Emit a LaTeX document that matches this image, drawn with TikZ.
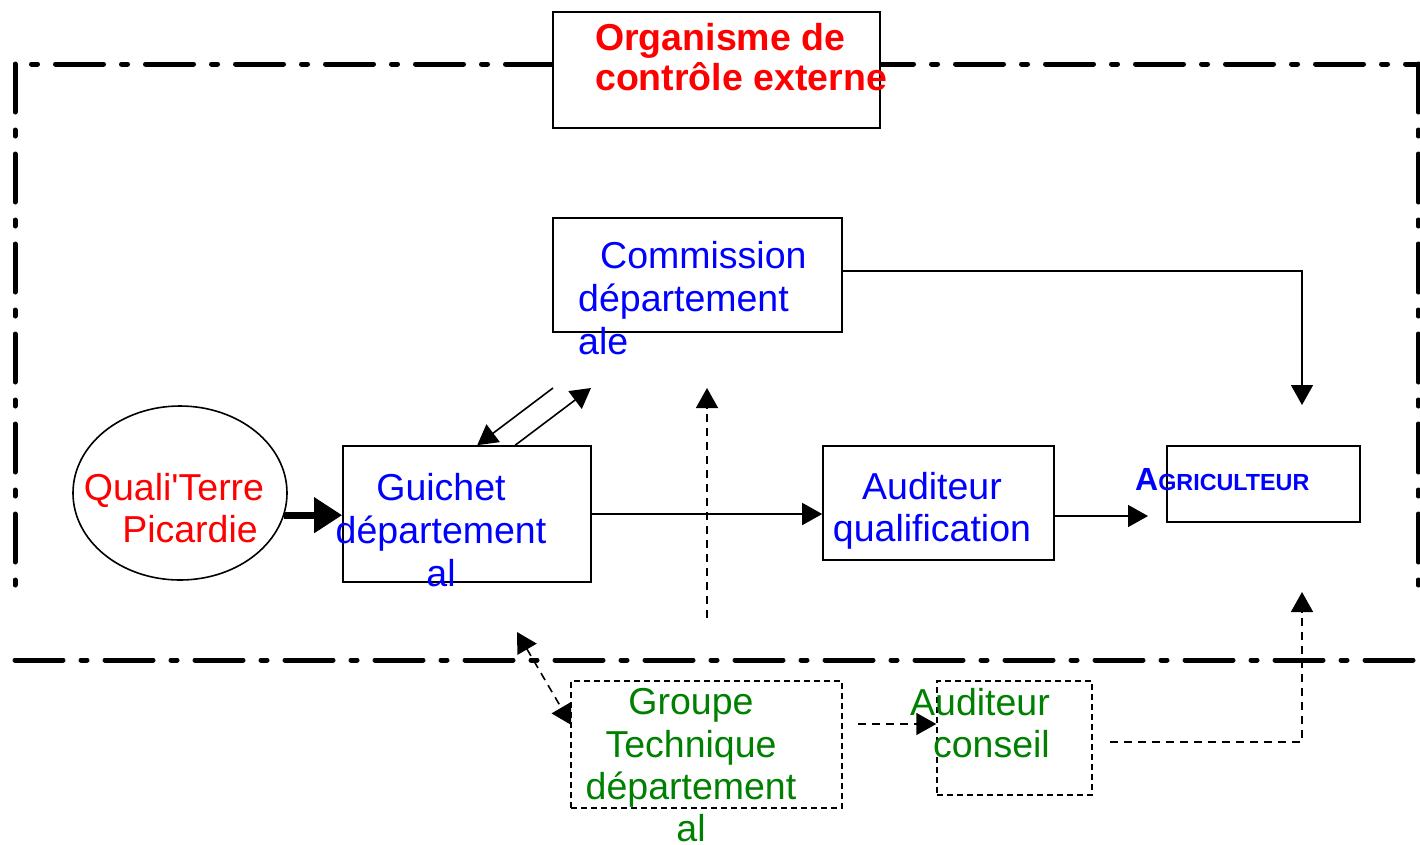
\documentclass[tikz,border=0pt]{standalone}
\usepackage{fontspec}
\setmainfont{Liberation Sans}
\usetikzlibrary{arrows.meta,shapes.geometric,calc}
\definecolor{qred}{HTML}{FF0000}
\definecolor{qblue}{HTML}{0000FF}
\definecolor{qgreen}{HTML}{008000}
\begin{document}
\begin{tikzpicture}[x=1pt,y=-1pt,
  frameline/.style={line width=5pt,line cap=round,dash pattern=on 48pt off 18pt on 6pt off 18pt},
  box/.style={draw,line width=1.6pt,fill=white,inner sep=0pt},
  dbox/.style={draw,line width=1.4pt,fill=white,inner sep=0pt,dash pattern=on 6pt off 4pt},
  txt/.style={inner sep=0pt,font=\fontsize{37.5}{43}\selectfont},
  arr/.style={line width=1.6pt,-{Triangle[length=20pt,width=22pt]}},
  darr/.style={arr,dash pattern=on 8pt off 6pt},
  bigarr/.style={line width=7pt,-{Triangle[length=28pt,width=34pt]}}]
\useasboundingbox (0,0) rectangle (1420,844);

% dash-dot boundary of the organisation
\draw[frameline,dash phase=49.5pt] (15,64) -- (1418,64);
\draw[frameline] (15,64) -- (15,585);
\draw[frameline] (1418,64) -- (1418,585);
\draw[frameline] (15,660) -- (1418,660);

% boxes
\node[box,minimum width=327pt,minimum height=116pt] (org) at (716.5,70) {};
\node[box,minimum width=289pt,minimum height=114pt] (com) at (697.5,275) {};
\node[box,minimum width=248pt,minimum height=136pt] (gui) at (467,514) {};
\node[box,minimum width=231pt,minimum height=114pt] (aud) at (938.5,503) {};
\node[box,minimum width=193pt,minimum height=76pt] (agr) at (1263.5,484) {};
\node[dbox,minimum width=271pt,minimum height=127pt] (grp) at (706.5,744.5) {};
\node[dbox,minimum width=155pt,minimum height=114pt] (con) at (1014.5,738) {};
\node[draw,ellipse,line width=1.6pt,inner sep=0pt,minimum width=214pt,minimum height=174pt] (qt) at (180,493) {};

% labels
\node[txt,anchor=west,align=left,text=qred,font=\fontsize{37.5}{40}\selectfont\bfseries] (orgt) at (595,57) {Organisme de\\contrôle externe};
\node[txt,anchor=west,align=left,text=qblue] (comt) at (578,298) {\hspace*{22pt}Commission\\département\\ale};
\node[txt,align=center,text=qblue] (guit) at (441,530) {Guichet\\département\\al};
\node[txt,align=center,text=qred,font=\fontsize{37.5}{42}\selectfont] (qtt) at (174,508) {Quali\textquotesingle Terre\\\hspace*{32pt}Picardie};
\node[txt,align=center,text=qblue,font=\fontsize{37.5}{42}\selectfont] (audt) at (932,511) {Auditeur\\qualification};
\node[inner sep=0pt,anchor=west,text=qblue,font=\bfseries] (agrt) at (1135,480) {{\fontsize{32}{32}\selectfont A}{\fontsize{23.3}{23.3}\selectfont GRICULTEUR}};
\node[txt,align=center,text=qgreen,font=\fontsize{37.5}{42.3}\selectfont] (grpt) at (691,765.5) {Groupe\\Technique\\département\\al};
\node[txt,anchor=east,align=right,text=qgreen,font=\fontsize{37.5}{42}\selectfont] (cont) at (1050,723) {Auditeur\\conseil};

% free ends of connectors
\coordinate (agtop) at (1302,405);
\coordinate (agbot) at (1302,592);
\coordinate (comlow) at (707,388);
\coordinate (vstart) at (707,618);
\coordinate (dgs) at (553,388);
\coordinate (dge) at (591,388);
\coordinate (gtip) at (517,632);
\coordinate (cst) at (858,724);
\coordinate (cnd) at (1110,742);
\coordinate (agin) at (1148,516);

% connectors
\draw[bigarr] (qt.-12.6) -- (qt.-12.6 -| gui.west);
\draw[arr] (gui.east) -- (gui.east -| aud.west);
\draw[arr] (aud.east |- agin) -- (agin);
\draw[arr] ($(com.east)+(0,-4)$) -| (agtop);
\draw[arr] (dgs) -- ($(gui.north west)+(135,0)$);
\draw[arr] ($(gui.north west)+(173,0)$) -- (dge);
\draw[darr] (vstart) -- (comlow);
\draw[darr,{Triangle[length=20pt,width=22pt]}-{Triangle[length=20pt,width=22pt]}] (gtip) -- ($(grp.west)+(1,-19.5)$);
\draw[darr] (cst) -- (cst -| con.west);
\draw[darr] (cnd) -| (agbot);
\end{tikzpicture}
\end{document}
